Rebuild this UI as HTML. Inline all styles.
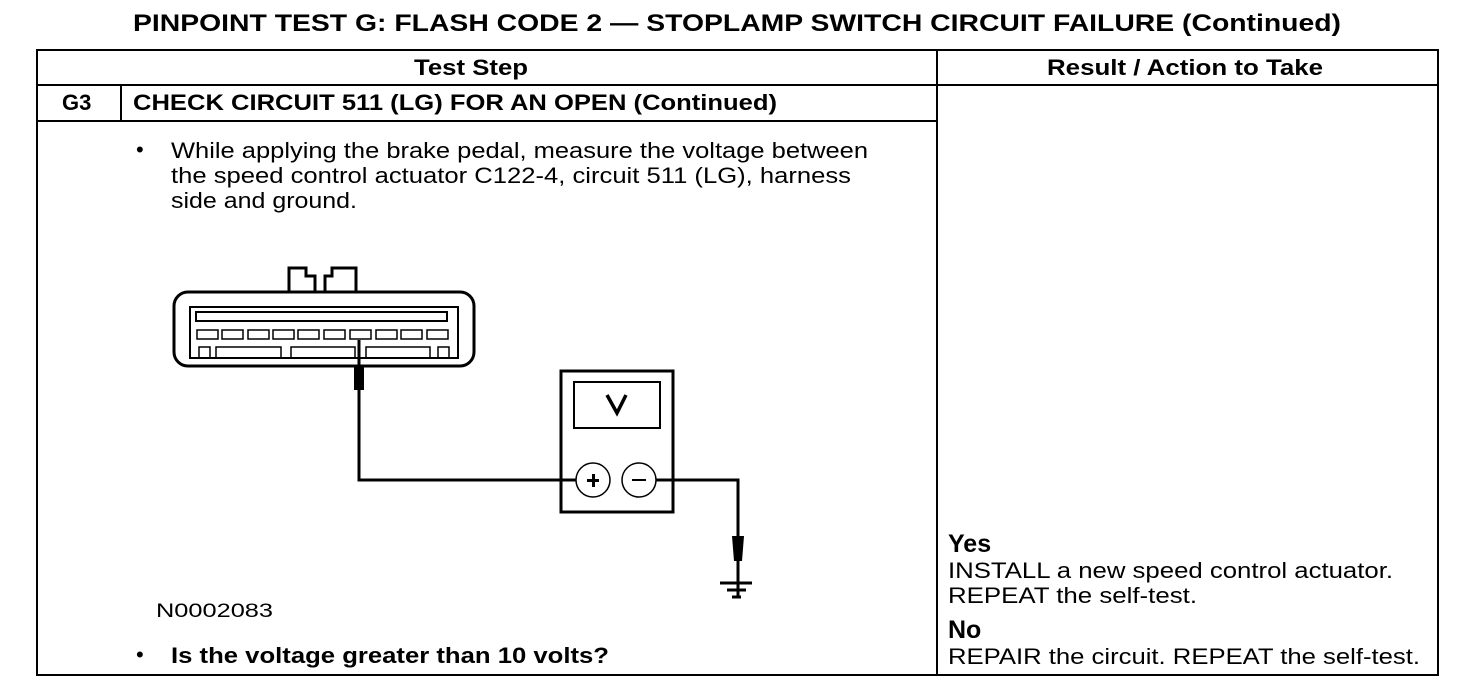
<!DOCTYPE html>
<html><head><style>html,body{margin:0;padding:0;background:#fff}svg{display:block}text{font-family:"Liberation Sans",Arial,sans-serif;fill:#000}</style></head>
<body>
<svg width="1472" height="696" viewBox="0 0 1472 696" xmlns="http://www.w3.org/2000/svg">
<text x="133" y="31" font-size="24" font-weight="bold" textLength="1208" lengthAdjust="spacingAndGlyphs">PINPOINT TEST  G: FLASH CODE 2 — STOPLAMP SWITCH CIRCUIT FAILURE (Continued)</text>
<g stroke="#000" stroke-width="2" fill="none">
<rect x="37" y="50" width="1401" height="625"/>
<line x1="37" y1="85" x2="1438" y2="85"/>
<line x1="937" y1="50" x2="937" y2="675"/>
<line x1="37" y1="121" x2="937" y2="121"/>
<line x1="121" y1="85" x2="121" y2="121"/>
</g>
<text x="414" y="75" font-size="22" font-weight="bold" textLength="114" lengthAdjust="spacingAndGlyphs">Test Step</text>
<text x="1047" y="75" font-size="22" font-weight="bold" textLength="276" lengthAdjust="spacingAndGlyphs">Result / Action to Take</text>
<text x="62" y="110" font-size="22" font-weight="bold">G3</text>
<text x="133" y="110" font-size="22" font-weight="bold" textLength="644" lengthAdjust="spacingAndGlyphs">CHECK CIRCUIT 511 (LG) FOR AN OPEN (Continued)</text>
<text x="136" y="157" font-size="22">•</text>
<text x="171" y="158" font-size="22" textLength="697" lengthAdjust="spacingAndGlyphs">While applying the brake pedal, measure the voltage between</text>
<text x="171" y="183" font-size="22" textLength="680" lengthAdjust="spacingAndGlyphs">the speed control actuator C122-4, circuit 511 (LG), harness</text>
<text x="171" y="208" font-size="22" textLength="186" lengthAdjust="spacingAndGlyphs">side and ground.</text>
<text x="156" y="617" font-size="19" textLength="117" lengthAdjust="spacingAndGlyphs">N0002083</text>
<text x="136" y="662" font-size="22">•</text>
<text x="171" y="663" font-size="22" font-weight="bold" textLength="438" lengthAdjust="spacingAndGlyphs">Is the voltage greater than 10 volts?</text>
<text x="948" y="552" font-size="25" font-weight="bold">Yes</text>
<text x="948" y="578" font-size="22" textLength="445" lengthAdjust="spacingAndGlyphs">INSTALL a new speed control actuator.</text>
<text x="948" y="603" font-size="22" textLength="249" lengthAdjust="spacingAndGlyphs">REPEAT the self-test.</text>
<text x="948" y="638" font-size="25" font-weight="bold">No</text>
<text x="948" y="664" font-size="22" textLength="472" lengthAdjust="spacingAndGlyphs">REPAIR the circuit. REPEAT the self-test.</text>
<g stroke="#000" fill="none">
<rect x="174" y="292" width="300" height="74" rx="14" stroke-width="3"/>
<path d="M289 292 V268 H306 V276 H315 V292 M325 292 V276 H332 V268 H356 V292" stroke-width="3"/>
<rect x="190" y="307" width="268" height="51" stroke-width="2"/>
<rect x="196" y="312" width="251" height="9" stroke-width="2"/>
<g stroke-width="1.5">
<rect x="197" y="330" width="21" height="9"/><rect x="222" y="330" width="21" height="9"/><rect x="248" y="330" width="21" height="9"/><rect x="273" y="330" width="21" height="9"/><rect x="298" y="330" width="21" height="9"/><rect x="324" y="330" width="21" height="9"/><rect x="350" y="330" width="21" height="9"/><rect x="376" y="330" width="21" height="9"/><rect x="401" y="330" width="21" height="9"/><rect x="427" y="330" width="21" height="9"/>
<rect x="199" y="347" width="11" height="11"/><rect x="216" y="347" width="65" height="11"/><rect x="291" y="347" width="64" height="11"/><rect x="366" y="347" width="64" height="11"/><rect x="438" y="347" width="11" height="11"/>
</g>
<polyline points="359,340 359,480 576,480" stroke-width="3"/>
<rect x="561" y="371" width="112" height="141" stroke-width="3"/>
<rect x="574" y="382" width="86" height="46" stroke-width="2"/>
<circle cx="593" cy="480" r="17" stroke-width="1.5"/>
<circle cx="639" cy="480" r="17" stroke-width="1.5"/>
<polyline points="656,480 738,480 738,597" stroke-width="3"/>
<line x1="720" y1="583" x2="752" y2="583" stroke-width="3"/>
<line x1="727" y1="590" x2="746" y2="590" stroke-width="3"/>
<line x1="732" y1="597" x2="741" y2="597" stroke-width="3"/>
</g>
<rect x="354" y="366" width="10" height="24" fill="#000"/>
<path d="M732 536 H744 L742 561 H734 Z" fill="#000"/>
<path d="M607 395 L617 413 L626 395" stroke="#000" stroke-width="3.5" fill="none"/>
<rect x="587" y="479" width="12" height="3" fill="#000"/><rect x="592" y="474" width="3" height="13" fill="#000"/>
<rect x="632" y="479" width="14" height="2" fill="#000"/>
</svg>
</body></html>
